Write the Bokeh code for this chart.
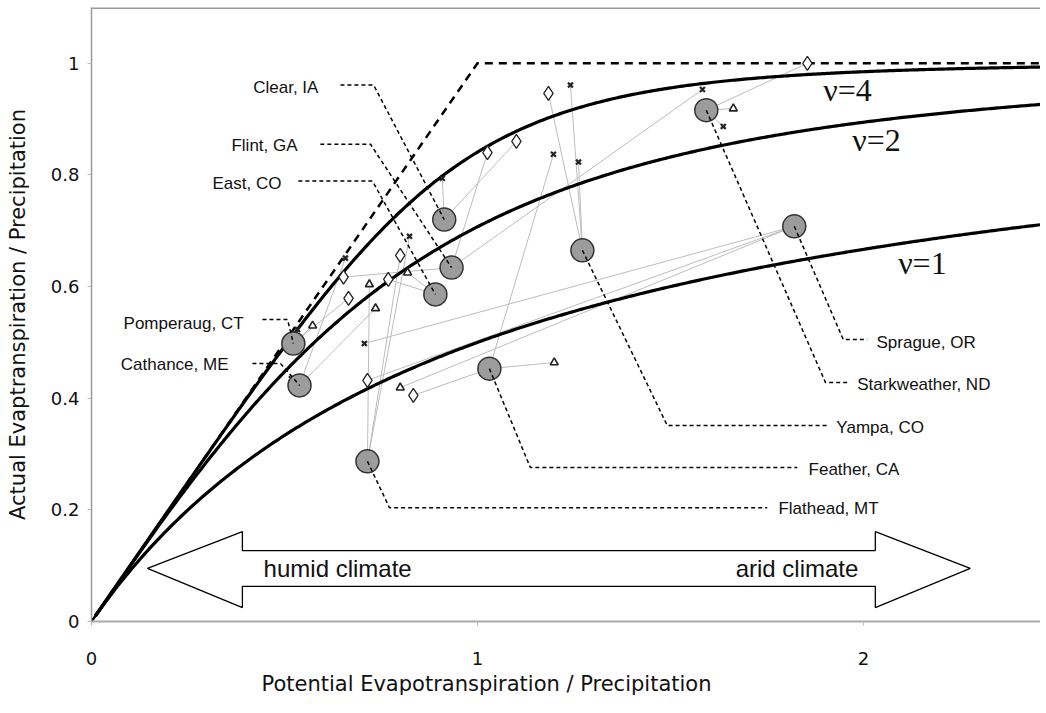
import numpy as np
from bokeh.plotting import figure
from bokeh.models import Range1d, FixedTicker, Label, Span, Title
from bokeh.embed import file_html
from bokeh.resources import INLINE

# ---------------- data ----------------
site_names = ["Pomperaug, CT", "Cathance, ME", "Clear, IA", "Flint, GA", "East, CO",
              "Yampa, CO", "Feather, CA", "Flathead, MT", "Starkweather, ND", "Sprague, OR"]
site_x = [0.523, 0.539, 0.914, 0.933, 0.891, 1.272, 1.031, 0.715, 1.593, 1.821]
site_y = [0.498, 0.423, 0.720, 0.634, 0.586, 0.665, 0.453, 0.287, 0.916, 0.708]

diamond_x = [1.855, 1.184, 1.101, 1.026, 0.800, 0.653, 0.769, 0.666, 0.715, 0.834]
diamond_y = [1.000, 0.946, 0.860, 0.840, 0.656, 0.617, 0.613, 0.579, 0.432, 0.405]
diamond_site = ["Starkweather, ND", "Yampa, CO", "Clear, IA", "Flint, GA", "Flathead, MT",
                "Flint, GA", "East, CO", "Pomperaug, CT", "Sprague, OR", "Feather, CA"]

triangle_x = [1.663, 0.720, 0.736, 0.819, 0.573, 0.800, 1.199]
triangle_y = [0.919, 0.604, 0.561, 0.625, 0.530, 0.419, 0.464]
triangle_site = ["Starkweather, ND", "Flathead, MT", "Cathance, ME", "East, CO",
                 "Pomperaug, CT", "Sprague, OR", "Feather, CA"]

cross_x = [1.241, 1.583, 1.637, 1.197, 1.262, 0.909, 0.824, 0.658, 0.707, 0.534, 0.518]
cross_y = [0.961, 0.953, 0.887, 0.837, 0.823, 0.794, 0.690, 0.651, 0.498, 0.523, 0.435]
cross_site = ["Yampa, CO", "Flint, GA", "Starkweather, ND", "Feather, CA", "Yampa, CO",
              "Clear, IA", "Flathead, MT", "Cathance, ME", "Sprague, OR", "Pomperaug, CT",
              "Cathance, ME"]

nu_values = [1, 2, 4]
nu_labels = ["ν=1", "ν=2", "ν=4"]

x_ticks = [0, 1, 2]
y_ticks = [0, 0.2, 0.4, 0.6, 0.8, 1]
y_tick_labels = ["0", "0.2", "0.4", "0.6", "0.8", "1"]

# ---------------- layout (annotation positions) ----------------
X_END, Y_END = 2.459, 1.1
label_layout = {
    # name: (side, text_x, text_y, leader_x0, leader_x1, leader_y)
    "Clear, IA":        ("L", 0.588, 0.957, 0.645, 0.731, 0.961),
    "Flint, GA":        ("L", 0.534, 0.853, 0.593, 0.723, 0.855),
    "East, CO":         ("L", 0.492, 0.785, 0.536, 0.728, 0.789),
    "Pomperaug, CT":    ("L", 0.394, 0.534, 0.443, 0.508, 0.541),
    "Cathance, ME":     ("L", 0.355, 0.461, 0.417, 0.490, 0.462),
    "Sprague, OR":      ("R", 2.034, 0.500, 1.948, 2.010, 0.505),
    "Starkweather, ND": ("R", 1.984, 0.425, 1.902, 1.959, 0.428),
    "Yampa, CO":        ("R", 1.930, 0.348, 1.492, 1.907, 0.351),
    "Feather, CA":      ("R", 1.858, 0.272, 1.137, 1.829, 0.276),
    "Flathead, MT":     ("R", 1.780, 0.203, 0.772, 1.751, 0.204),
}
nu_label_pos = {"ν=1": (2.153, 0.642), "ν=2": (2.034, 0.862), "ν=4": (1.959, 0.952)}

p = figure(width=1040, height=705, x_range=Range1d(0, X_END), y_range=Range1d(0, Y_END),
           output_backend="svg", toolbar_location=None,
           min_border_left=91, min_border_right=0, min_border_top=7, min_border_bottom=84)
p.xgrid.visible = False
p.ygrid.visible = False
p.outline_line_color = None
p.background_fill_color = "white"
p.border_fill_color = "white"

# axes
p.xaxis.ticker = FixedTicker(ticks=x_ticks)
p.yaxis.ticker = FixedTicker(ticks=y_ticks)
p.yaxis.major_label_overrides = {t: s for t, s in zip(y_ticks, y_tick_labels)}
for ax in (p.xaxis[0], p.yaxis[0]):
    ax.major_tick_in = 0
    ax.major_tick_out = 4
    ax.minor_tick_out = 0
    ax.minor_tick_in = 0
    ax.major_tick_line_color = "#bbbbbb"
    ax.major_label_text_font = "DejaVu Sans"
    ax.major_label_text_font_size = "18px"
    ax.major_label_text_color = "#111111"
p.xaxis.axis_line_color = "#aaaaaa"
p.xaxis.axis_line_width = 2
p.yaxis.axis_line_color = "#999999"
p.yaxis.axis_line_width = 1.5
p.xaxis.major_label_standoff = 26
p.yaxis.major_label_standoff = 8
p.yaxis.axis_label = "Actual Evaptranspiration / Precipitation"
p.yaxis.axis_label_text_font = "DejaVu Sans"
p.yaxis.axis_label_text_font_style = "normal"
p.yaxis.axis_label_text_font_size = "21px"
p.yaxis.axis_label_text_color = "#111111"
p.yaxis.axis_label_standoff = 18

# x axis title, below the axis, centred where the reference centres it
p.add_layout(Title(text="Potential Evapotranspiration / Precipitation", align="left",
                   offset=170, text_font="DejaVu Sans", text_font_size="21px",
                   text_font_style="normal", text_color="#111111", standoff=4), "below")

p.add_layout(Span(location=Y_END - 0.001, dimension="width", line_color="#999999", line_width=2))

# thin grey links from each site to its scenario markers
site_lookup = {n: (x, y) for n, x, y in zip(site_names, site_x, site_y)}
link_xs, link_ys = [], []
for mx, my, ms in (list(zip(diamond_x, diamond_y, diamond_site)) +
                   list(zip(triangle_x, triangle_y, triangle_site)) +
                   list(zip(cross_x, cross_y, cross_site))):
    sx, sy = site_lookup[ms]
    link_xs.append([sx, mx])
    link_ys.append([sy, my])
p.multi_line(link_xs, link_ys, line_color="#bdbdbd", line_width=1)

# Budyko / Fu type curves
xc = np.linspace(0.01, X_END, 400)
for nu in nu_values:
    p.line(xc, xc / (1 + xc ** nu) ** (1.0 / nu), line_color="black", line_width=3.2)

# energy / water limits
p.line([0, 1, X_END], [0, 1, 1], line_color="black", line_width=2.5, line_dash="8 6")

# climate arrow
ax_ = [0.145, 0.391, 0.391, 2.031, 2.031, 2.277, 2.031, 2.031, 0.391, 0.391]
ay_ = [0.095, 0.161, 0.127, 0.127, 0.161, 0.095, 0.025, 0.063, 0.063, 0.025]
p.patch(ax_, ay_, fill_color="white", line_color="black", line_width=1.3)
p.add_layout(Label(x=0.446, y=0.095, text="humid climate", text_align="left",
                   text_baseline="middle", text_font="Liberation Sans",
                   text_font_size="24px", text_color="#111111"))
p.add_layout(Label(x=1.987, y=0.095, text="arid climate", text_align="right",
                   text_baseline="middle", text_font="Liberation Sans",
                   text_font_size="24px", text_color="#111111"))

# scenario markers
p.scatter(diamond_x, diamond_y, marker="diamond", size=14, fill_color="white",
          line_color="#222222", line_width=1.3)
p.scatter(triangle_x, triangle_y, marker="triangle", size=8, fill_color="white",
          line_color="#222222", line_width=1.6)
p.scatter(cross_x, cross_y, marker="x", size=7, line_color="#222222", line_width=2.2)

# main sites
p.scatter(site_x, site_y, marker="circle", size=23, fill_color="#9c9c9c",
          line_color="#333333", line_width=1.5)

# leader lines and site labels
for n, sx, sy in zip(site_names, site_x, site_y):
    side, tx, ty, lx0, lx1, ly = label_layout[n]
    if side == "L":
        xs, ys = [lx0, lx1, sx], [ly, ly, sy]
        align = "right"
    else:
        xs, ys = [sx, lx0, lx1], [sy, ly, ly]
        align = "left"
    p.line(xs, ys, line_color="black", line_width=1.5, line_dash="4 3")
    p.add_layout(Label(x=tx, y=ty, text=n, text_align=align, text_baseline="middle",
                       text_font="Liberation Sans", text_font_size="17px",
                       text_color="#111111"))

# nu labels
for t in nu_labels:
    lx, ly = nu_label_pos[t]
    p.add_layout(Label(x=lx, y=ly, text=t, text_align="center", text_baseline="middle",
                       text_font="Liberation Serif", text_font_size="32px",
                       text_color="#111111"))

open("out.html", "w").write(file_html(p, INLINE))
